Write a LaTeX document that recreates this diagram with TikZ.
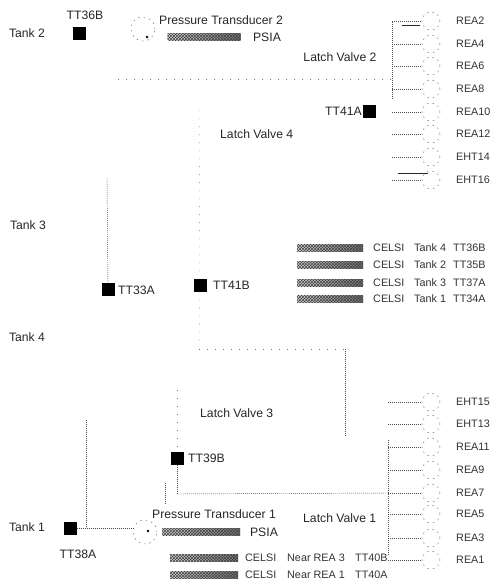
\documentclass[tikz,border=0pt]{standalone}
\usepackage{fontspec}
\setmainfont{Liberation Sans}
\usetikzlibrary{patterns}
\tikzset{
  lbl/.style={inner sep=0pt,font=\fontsize{12.2}{14}\selectfont,text=black!85},
  small/.style={inner sep=0pt,font=\fontsize{10.8}{12}\selectfont,text=black!80},
  sensor/.style={rectangle,fill=black,minimum size=13pt,inner sep=0pt},
  readout/.style={rectangle,left color=black!15,right color=black!55,postaction={pattern=crosshatch,pattern color=black!75},minimum height=7.5pt,inner sep=0pt},
  valve/.style={circle,draw=black!60,line width=0.45pt,dash pattern=on 1.5pt off 4pt,minimum size=18pt,inner sep=0pt},
  pvalve/.style={valve,minimum size=24pt},
  conn/.style={draw=black!70,line width=0.45pt,dash pattern=on 1pt off 1pt},
  sparse/.style={draw=black!55,line width=0.4pt,dash pattern=on 1pt off 7pt},
  heavy/.style={draw=black!85,line width=0.7pt},
  tip/.style={fill=black,circle,inner sep=1pt}
}
\begin{document}
\begin{tikzpicture}[x=1pt,y=-1pt]
\useasboundingbox (0,0) rectangle (490,582);
% sensors
\node[sensor] (s36b) at (79,33) {};
\node[sensor] (s41a) at (369,111) {};
\node[sensor] (s33a) at (108,289) {};
\node[sensor] (s41b) at (200,285) {};
\node[sensor] (s39b) at (177,458) {};
\node[sensor] (s38a) at (70,528) {};
% sensor labels
\node[lbl] (l36b) at (85,15) {TT36B};
\node[lbl,anchor=east] (l41a) at (362,111) {TT41A};
\node[lbl,anchor=west] (l33a) at (118,290) {TT33A};
\node[lbl,anchor=west] (l41b) at (213,285) {TT41B};
\node[lbl,anchor=west] (l39b) at (188,458) {TT39B};
\node[lbl] (l38a) at (78,554) {TT38A};
% tanks
\node[lbl] (t2) at (27,33) {Tank 2};
\node[lbl] (t3) at (28,225) {Tank 3};
\node[lbl] (t4) at (27,337) {Tank 4};
\node[lbl] (t1) at (27,527) {Tank 1};
% transducers and valves
\node[pvalve] (p2) at (143,29) {};
\node[pvalve] (p1) at (145,532) {};
\node[tip] (p2t) at (147,37) {};
\node[tip] (p1t) at (148,531) {};
\node[lbl,anchor=west] (pt2) at (159,20) {Pressure Transducer 2};
\node[lbl,anchor=west] (pt1) at (152,514) {Pressure Transducer 1};
\node[readout,minimum width=73pt] (b2) at (204,37) {};
\node[readout,minimum width=78pt] (b1) at (201,532) {};
\node[lbl] (u2) at (267,37) {PSIA};
\node[lbl] (u1) at (264,532) {PSIA};
\node[lbl] (lv2) at (340,57) {Latch Valve 2};
\node[lbl,anchor=west] (lv4) at (220,134) {Latch Valve 4};
\node[lbl,anchor=west] (lv3) at (200,413) {Latch Valve 3};
\node[lbl,anchor=west] (lv1) at (303,518) {Latch Valve 1};
% celsius readouts
\foreach \n/\y/\t/\c in {a/248/Tank 4/TT36B,b/265/Tank 2/TT35B,c/283/Tank 3/TT37A,d/299/Tank 1/TT34A}{
  \node[readout,minimum width=66pt] (r\n) at (330,\y) {};
  \node[small,anchor=west] (c\n) at (373,\y) {CELSI};
  \node[small,anchor=west] (k\n) at (414,\y) {\t};
  \node[small,anchor=west] (i\n) at (453,\y) {\c};
}
\node[readout,minimum width=68pt] (re) at (204,558) {};
\node[readout,minimum width=68pt] (rf) at (204,575) {};
\node[small,anchor=west] (ce) at (245,558) {CELSI};
\node[small,anchor=west] (cf) at (245,575) {CELSI};
\node[small,anchor=west] (ke) at (287,558) {Near REA 3};
\node[small,anchor=west] (kf) at (287,575) {Near REA 1};
\node[small,anchor=west] (ie) at (355,558) {TT40B};
\node[small,anchor=west] (if) at (355,575) {TT40A};
% thruster labels and valves
\foreach \n/\y/\t in {a/21/REA2,b/44/REA4,c/66/REA6,d/89/REA8,e/112/REA10,f/134/REA12,g/157/EHT14,h/180/EHT16,
                      i/402/EHT15,j/424/EHT13,k/447/REA11,l/470/REA9,m/493/REA7,n/514/REA5,o/538/REA3,p/560/REA1}{
  \node[small,anchor=west] (n\n) at (456,\y) {\t};
  \node[valve] (v\n) at (431,\y) {};
  \ifnum\y<300 \coordinate (h\n) at (392,\y);\else\coordinate (h\n) at (388,\y);\fi
  \draw[conn] (h\n) -- (v\n.west);
}
\coordinate (ha2) at (402,25);
\coordinate (va2) at (420,25);
\draw[heavy] (ha2) -- (va2);
\coordinate (hh2) at (398,173);
\coordinate (vh2) at (428,173);
\draw[heavy] (hh2) -- (vh2);
% junction points
\coordinate (m2t) at (392,22);
\coordinate (m2b) at (392,100);
\coordinate (m3t) at (388,440);
\coordinate (m3b) at (388,555);
\coordinate (jt) at (118,79);
\coordinate (jr) at (392,79);
\coordinate (c4) at (199,110);
\coordinate (c5) at (199,349);
\coordinate (c6) at (345,349);
\coordinate (c7) at (345,437);
\coordinate (c8) at (107,178);
\coordinate (c9) at (177,390);
\coordinate (c10) at (177,494);
\coordinate (c11) at (86,420);
\coordinate (c12) at (86,528);
\coordinate (c13) at (165,483);
\coordinate (c14) at (165,505);
\coordinate (c15) at (133,528);
% connectors
\draw[conn] (m2t) -- (m2b);
\draw[conn] (m3t) -- (m3b);
\draw[sparse] (jt) -- (jr);
\draw[sparse] (c4) -- (s41b);
\draw[conn] (c8) -- (s33a);
\draw[sparse] (s41b) -- (c5);
\draw[sparse] (c5) -- (c6);
\draw[conn] (c6) -- (c7);
\draw[sparse] (c9) -- (s39b);
\draw[conn] (s39b) -- (c10);
\draw[conn] (c10) -- (hm);
\draw[conn] (c11) -- (c12);
\draw[conn] (s38a) -- (c15);
\draw[conn] (c13) -- (c14);
\end{tikzpicture}
\end{document}
